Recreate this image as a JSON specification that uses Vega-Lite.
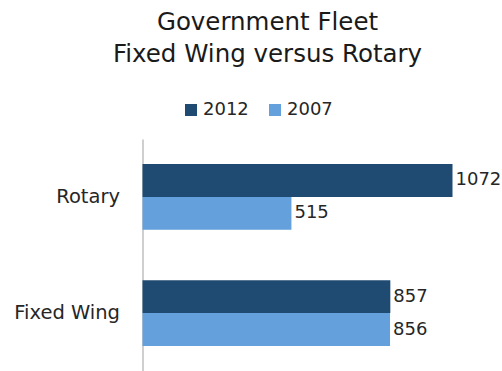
{
  "$schema": "https://vega.github.io/schema/vega-lite/v6.json",
  "autosize": {"type": "none"},
  "padding": {"left": 142.5, "top": 139, "right": 49.5, "bottom": 0},
  "width": 310,
  "height": 232,
  "background": "white",
  "title": {
    "text": ["Government Fleet", "Fixed Wing versus Rotary"],
    "font": "DejaVu Sans",
    "fontSize": 24.5,
    "fontWeight": "normal",
    "color": "#1a1a1a",
    "lineHeight": 32,
    "anchor": "middle",
    "frame": "group",
    "dx": -30,
    "offset": 34
  },
  "data": {
    "values": [
      {"category": "Rotary", "year": "2012", "count": 1072},
      {"category": "Rotary", "year": "2007", "count": 515},
      {"category": "Fixed Wing", "year": "2012", "count": 857},
      {"category": "Fixed Wing", "year": "2007", "count": 856}
    ]
  },
  "encoding": {
    "y": {
      "field": "category",
      "type": "nominal",
      "sort": ["Rotary", "Fixed Wing"],
      "scale": {"paddingInner": 0.433, "paddingOuter": 0.215},
      "axis": {
        "title": null,
        "ticks": false,
        "labelFont": "DejaVu Sans",
        "labelFontSize": 19.5,
        "labelColor": "#262626",
        "labelPadding": 23,
        "domainColor": "#BFBFBF",
        "domainWidth": 1.5,
        "grid": false
      }
    },
    "yOffset": {
      "field": "year",
      "type": "nominal",
      "sort": ["2012", "2007"],
      "scale": {"paddingInner": 0, "paddingOuter": 0}
    },
    "x": {
      "field": "count",
      "type": "quantitative",
      "scale": {"domain": [0, 1072], "nice": false, "zero": true},
      "axis": null
    }
  },
  "layer": [
    {
      "mark": {"type": "bar", "clip": false},
      "encoding": {
        "color": {
          "field": "year",
          "type": "nominal",
          "scale": {"domain": ["2012", "2007"], "range": ["#1F4A72", "#63A0DC"]},
          "legend": {
            "title": null,
            "orient": "none",
            "direction": "horizontal",
            "legendX": 39.5,
            "legendY": -38,
            "symbolType": "square",
            "symbolSize": 144,
            "symbolStrokeWidth": 0,
            "labelFont": "DejaVu Sans",
            "labelFontSize": 18,
            "labelColor": "#262626",
            "labelOffset": 3,
            "columnPadding": 17
          }
        }
      }
    },
    {
      "mark": {
        "type": "text",
        "align": "left",
        "baseline": "middle",
        "dx": 3,
        "font": "DejaVu Sans",
        "fontSize": 18,
        "color": "#262626"
      },
      "encoding": {
        "text": {"field": "count", "type": "quantitative"}
      }
    }
  ],
  "config": {"view": {"stroke": null}}
}
